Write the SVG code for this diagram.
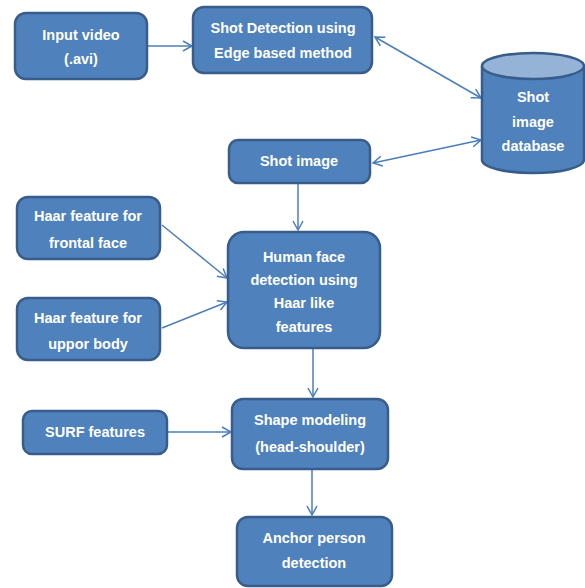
<svg xmlns="http://www.w3.org/2000/svg" width="585" height="588" viewBox="0 0 585 588">
<style>
.box{fill:#4F81BD;stroke:#385D8A;stroke-width:2.5}
.t{fill:#fff;font-family:"Liberation Sans",Arial,sans-serif;font-weight:bold;font-size:14.5px;text-anchor:middle}
.c{fill:none;stroke:#4A7EBB;stroke-width:1.5}
</style>
<defs>
<marker id="ah" markerUnits="userSpaceOnUse" markerWidth="14" markerHeight="14" refX="10" refY="6" orient="auto-start-reverse" viewBox="0 0 14 12">
<path d="M1,1 L10,6 L1,11" fill="none" stroke="#4A7EBB" stroke-width="1.5"/>
</marker>
</defs>
<rect width="585" height="588" fill="#fff"/>
<g id="connectors">
<line class="c" x1="148" y1="46" x2="192" y2="46" marker-end="url(#ah)"/>
<line class="c" x1="375" y1="37" x2="481" y2="98" marker-start="url(#ah)" marker-end="url(#ah)"/>
<line class="c" x1="373" y1="163" x2="481" y2="140" marker-start="url(#ah)" marker-end="url(#ah)"/>
<line class="c" x1="298" y1="184" x2="298" y2="230" marker-end="url(#ah)"/>
<line class="c" x1="162" y1="225" x2="227" y2="278" marker-end="url(#ah)"/>
<line class="c" x1="162" y1="328" x2="227" y2="302" marker-end="url(#ah)"/>
<line class="c" x1="313" y1="349" x2="313" y2="397" marker-end="url(#ah)"/>
<line class="c" x1="168" y1="432" x2="231" y2="432" marker-end="url(#ah)"/>
<line class="c" x1="312" y1="470" x2="312" y2="515" marker-end="url(#ah)"/>
</g>
<g id="input">
<rect class="box" x="15" y="13" width="132" height="66" rx="11"/>
<text class="t" x="81" y="40">Input video</text>
<text class="t" x="81" y="64">(.avi)</text>
</g>
<g id="shotdetect">
<rect class="box" x="193" y="7" width="179" height="66" rx="11"/>
<text class="t" x="283" y="33">Shot Detection using</text>
<text class="t" x="283" y="58">Edge based method</text>
</g>
<g id="database">
<path class="box" d="M482,66 L482,160 A51,13 0 0 0 584,160 L584,66"/>
<ellipse cx="533" cy="66" rx="51" ry="13" fill="#95B3D7" stroke="#385D8A" stroke-width="2.5"/>
<text class="t" x="533" y="102">Shot</text>
<text class="t" x="533" y="127">image</text>
<text class="t" x="533" y="151">database</text>
</g>
<g id="shotimage">
<rect class="box" x="229" y="140" width="141" height="43" rx="9"/>
<text class="t" x="299" y="166">Shot image</text>
</g>
<g id="haarfrontal">
<rect class="box" x="17" y="197" width="143" height="62" rx="11"/>
<text class="t" x="88" y="221">Haar feature for</text>
<text class="t" x="88" y="248">frontal face</text>
</g>
<g id="haarupper">
<rect class="box" x="17" y="298" width="143" height="62" rx="11"/>
<text class="t" x="88" y="323">Haar feature for</text>
<text class="t" x="88" y="349">uppor body</text>
</g>
<g id="humanface">
<rect class="box" x="228" y="232" width="152" height="116" rx="16"/>
<text class="t" x="304" y="262">Human face</text>
<text class="t" x="304" y="285">detection using</text>
<text class="t" x="304" y="308">Haar like</text>
<text class="t" x="304" y="332">features</text>
</g>
<g id="surf">
<rect class="box" x="23" y="411" width="144" height="43" rx="9"/>
<text class="t" x="95" y="437">SURF features</text>
</g>
<g id="shape">
<rect class="box" x="232" y="399" width="156" height="70" rx="11"/>
<text class="t" x="310" y="425">Shape modeling</text>
<text class="t" x="310" y="452">(head-shoulder)</text>
</g>
<g id="anchor">
<rect class="box" x="237" y="517" width="155" height="69" rx="11"/>
<text class="t" x="314" y="543">Anchor person</text>
<text class="t" x="314" y="568">detection</text>
</g>
</svg>
